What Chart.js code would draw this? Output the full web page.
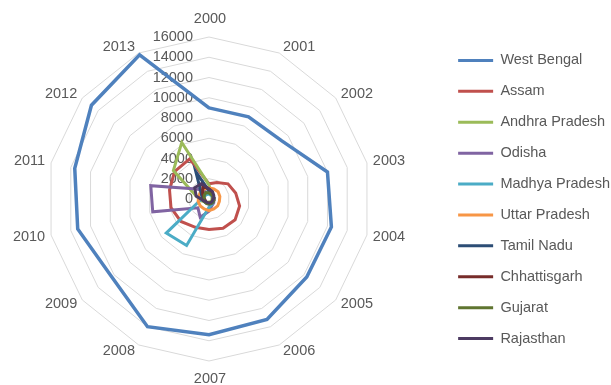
<!DOCTYPE html>
<html>
<head>
<meta charset="utf-8">
<script src="https://cdn.jsdelivr.net/npm/chart.js@4/dist/chart.umd.min.js"></script>
<style>
  html, body { margin: 0; padding: 0; background: #ffffff; }
  #wrap { width: 611px; height: 385px; }
</style>
</head>
<body>
<div id="wrap"><canvas id="c" width="611" height="385"></canvas></div>
<script>
// Category axis: years
const years = ['2000','2001','2002','2003','2004','2005','2006','2007','2008','2009','2010','2011','2012','2013'];

// Value axis
const axisMin = 0;
const axisMax = 16000;
const axisStep = 2000;

// Series values per state
const westBengal     = [9000, 9000, 9200, 12000, 12400, 12350, 13200, 13400, 14000, 12300, 13300, 13600, 14850, 15800];
const assam          = [1500, 1800, 2400, 2700, 3100, 3300, 3200, 3000, 3100, 3550, 3850, 4000, 4350, 4400];
const andhraPradesh  = [1400, 500, 400, 300, 300, 300, 300, 300, 400, 500, 800, 1300, 4500, 6200];
const odisha         = [600, 500, 500, 500, 500, 600, 700, 1200, 2000, 1400, 5700, 5900, 1600, 800];
const madhyaPradesh  = [500, 400, 400, 400, 400, 500, 600, 800, 5100, 5400, 1000, 600, 500, 500];
const uttarPradesh   = [1100, 1100, 1150, 1100, 1050, 1100, 1100, 1150, 1100, 1100, 1100, 1050, 1100, 1100];
const tamilNadu      = [800, 600, 500, 500, 500, 500, 500, 500, 500, 500, 600, 700, 1000, 3000];
const chhattisgarh   = [1000, 700, 500, 400, 400, 400, 400, 400, 400, 400, 400, 500, 800, 1400];
const gujarat        = [600, 500, 500, 500, 500, 500, 500, 500, 500, 500, 500, 500, 600, 700];
const rajasthan      = [1000, 800, 600, 500, 400, 400, 400, 400, 400, 400, 600, 1300, 1800, 1700];

const seriesNames  = ['West Bengal','Assam','Andhra Pradesh','Odisha','Madhya Pradesh','Uttar Pradesh','Tamil Nadu','Chhattisgarh','Gujarat','Rajasthan'];
const seriesValues = [westBengal, assam, andhraPradesh, odisha, madhyaPradesh, uttarPradesh, tamilNadu, chhattisgarh, gujarat, rajasthan];
const seriesColors = ['#4F81BD','#C0504D','#9BBB59','#8064A2','#4BACC6','#F79646','#2C4D75','#772C2A','#5F7530','#4D3B62'];

const textColor = '#595959';
const fontFamily = '"Liberation Sans", Arial, sans-serif';
const fontSize = 14.5;

// Value labels right-aligned beside the vertical spoke; year labels anchored at the outer web corners
const axisLabelPlugin = {
  id: 'axisLabels',
  beforeDatasetsDraw(chart) {
    const s = chart.scales.r;
    const ctx = chart.ctx;
    ctx.save();
    ctx.font = fontSize + 'px ' + fontFamily;
    ctx.fillStyle = textColor;
    ctx.textAlign = 'right';
    ctx.textBaseline = 'middle';
    s.ticks.forEach(t => {
      const d = s.getDistanceFromCenterForValue(t.value);
      ctx.fillText(String(t.value), s.xCenter - 16, s.yCenter - d);
    });
    years.forEach((y, i) => {
      const a = s.getIndexAngle(i);
      const sn = Math.sin(a), cs = Math.cos(a);
      const v = s.getPointPosition(i, s.drawingArea);
      if (Math.abs(sn) < 0.05) {
        ctx.textAlign = 'center';
        ctx.fillText(y, v.x + 1, v.y - cs * 18);
      } else {
        ctx.textAlign = sn > 0 ? 'left' : 'right';
        const dx = (2 + 4 * Math.abs(sn)) * Math.sign(sn);
        ctx.fillText(y, v.x + dx, v.y - 7 * cs);
      }
    });
    ctx.restore();
  }
};

// Nudge the legend box after layout so the plot keeps its own space
const legendOffsetPlugin = {
  id: 'legendOffset',
  afterLayout(chart) {
    const lg = chart.legend;
    if (!lg) return;
    const dx = 70, dy = 0;
    lg.left += dx; lg.right += dx;
    lg.top += dy; lg.bottom += dy;
  }
};

const datasets = seriesNames.map((name, i) => ({
  label: name,
  data: seriesValues[i],
  borderColor: seriesColors[i],
  backgroundColor: seriesColors[i],
  borderWidth: i === 0 ? 3.5 : 3,
  fill: false,
  pointRadius: 0,
  pointHoverRadius: 0,
  order: seriesNames.length - i
}));

new Chart(document.getElementById('c'), {
  type: 'radar',
  data: { labels: years, datasets },
  options: {
    responsive: false,
    animation: false,
    devicePixelRatio: 1,
    layout: { padding: { top: 14, left: 47, right: 61, bottom: 0 } },
    elements: { line: { tension: 0, borderJoinStyle: 'miter' } },
    plugins: {
      tooltip: { enabled: false },
      legend: {
        position: 'right',
        labels: {
          boxWidth: 35,
          boxHeight: 3,
          padding: 16.4,
          color: textColor,
          font: { size: fontSize, family: fontFamily },
          sort: (a, b) => a.datasetIndex - b.datasetIndex,
          generateLabels(chart) {
            const items = Chart.defaults.plugins.legend.labels.generateLabels(chart);
            items.forEach(it => { it.lineWidth = 0; it.fillStyle = it.strokeStyle; });
            return items;
          }
        }
      }
    },
    scales: {
      r: {
        min: axisMin,
        max: axisMax,
        ticks: { stepSize: axisStep, display: false },
        grid: { color: '#d9d9d9', lineWidth: 1, circular: false },
        angleLines: { display: false },
        pointLabels: { display: false }
      }
    }
  },
  plugins: [axisLabelPlugin, legendOffsetPlugin]
});
</script>
</body>
</html>
